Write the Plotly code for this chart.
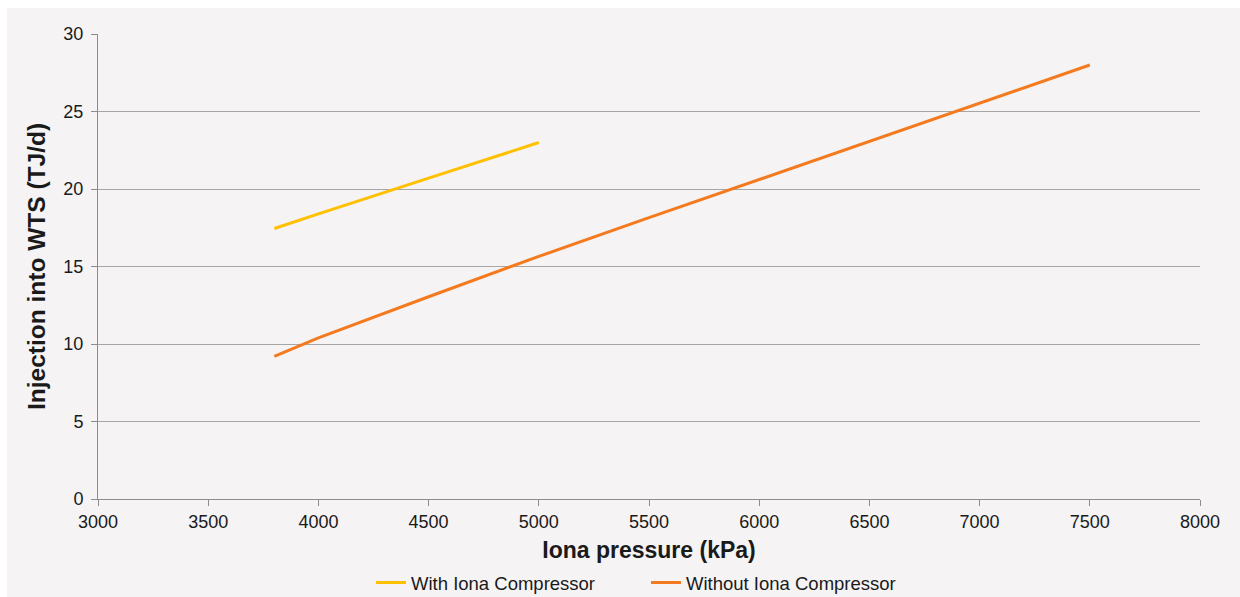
import plotly.graph_objects as go

pressure_with = [3800, 4000, 4500, 5000]
injection_with = [17.45, 18.4, 20.7, 23.0]

pressure_without = [3800, 4000, 4500, 5000, 5500, 6000, 6500, 7000, 7500]
injection_without = [9.2, 10.4, 13.05, 15.65, 18.15, 20.6, 23.05, 25.5, 28.0]

x_ticks = [3000, 3500, 4000, 4500, 5000, 5500, 6000, 6500, 7000, 7500, 8000]
y_ticks = [0, 5, 10, 15, 20, 25, 30]

W, H = 1240, 597
L, R, T, B = 98, 40, 34, 98
pw, ph = W - L - R, H - T - B

def px_x(p):
    return (p - L) / pw

def px_y(p):
    return 1 - (p - T) / ph

bg = "#f5f3f4"
font = "Liberation Sans, Arial, sans-serif"
legend_common = dict(orientation="h", xanchor="left", y=px_y(583), yanchor="middle",
                     font=dict(size=18.5, color="#1a1a1a"),
                     bgcolor="rgba(0,0,0,0)", itemclick=False, itemdoubleclick=False)

fig = go.Figure()
fig.add_trace(go.Scatter(x=pressure_with, y=injection_with, mode="lines",
                         name="With Iona Compressor", legend="legend",
                         line=dict(color="#FFC000", width=3)))
fig.add_trace(go.Scatter(x=pressure_without, y=injection_without, mode="lines",
                         name="Without Iona Compressor", legend="legend2",
                         line=dict(color="#F47A20", width=3)))

fig.update_layout(
    width=W, height=H,
    margin=dict(l=L, r=R, t=T, b=B, pad=0, autoexpand=False),
    paper_bgcolor=bg, plot_bgcolor=bg,
    font=dict(family=font, size=18, color="#1a1a1a"),
    showlegend=True,
    legend=dict(x=px_x(371), **legend_common),
    legend2=dict(x=px_x(646), **legend_common),
    shapes=[
        dict(type="rect", xref="paper", yref="paper",
             x0=px_x(0), x1=px_x(W), y0=px_y(0), y1=px_y(8),
             fillcolor="white", line=dict(width=0), layer="above"),
        dict(type="rect", xref="paper", yref="paper",
             x0=px_x(0), x1=px_x(7), y0=px_y(H), y1=px_y(0),
             fillcolor="white", line=dict(width=0), layer="above"),
    ],
)

fig.update_xaxes(
    range=[3000, 8000], tickvals=x_ticks, showgrid=False,
    showline=True, linecolor="#8c8c8c", linewidth=1,
    ticks="outside", ticklen=6, tickcolor="#8c8c8c",
    tickfont=dict(size=18), zeroline=False,
    title=dict(text="<b>Iona pressure (kPa)</b>", font=dict(size=23), standoff=11),
)
fig.update_yaxes(
    range=[0, 30], tickvals=y_ticks, showgrid=True, gridcolor="#a6a6a6", gridwidth=1,
    showline=True, linecolor="#8c8c8c", linewidth=1,
    ticks="outside", ticklen=6, tickcolor="#8c8c8c",
    tickfont=dict(size=18), zeroline=False, ticklabelstandoff=4,
    title=dict(text="<b>Injection into WTS (TJ/d)</b>", font=dict(size=24.5), standoff=10),
)

fig.write_html("out.html")
